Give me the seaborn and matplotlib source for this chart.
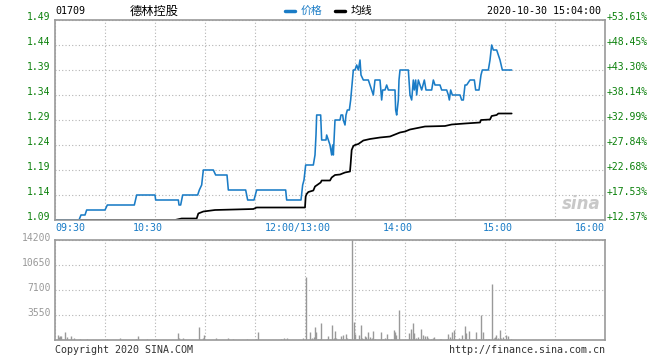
import matplotlib
matplotlib.use("Agg")
import matplotlib.pyplot as plt
import matplotlib.transforms as mtransforms
from matplotlib.lines import Line2D
import seaborn as sns

# minutes after 09:30, lunch break removed (150 = 12:00/13:00, 330 = 16:00)
price_min = [0, 14.4, 15.6, 18, 19, 30, 31.4, 47.6, 49, 60, 60.4, 74, 74.4, 75.4,
             76.6, 85.6, 86.6, 88, 89, 95, 96.4, 103.2, 104, 114.4, 115.6, 119.4,
             121, 138.4, 139, 147.6, 148.6, 149.4, 150.4, 155, 156, 156.6, 157,
             159.4, 160, 162.6, 163, 164, 165, 166, 166.6, 167, 168, 171, 171.6,
             172.6, 173, 174, 174.6, 175.4, 176.6, 177.4, 178.2, 179, 180, 181,
             182, 183, 183.6, 185, 188, 189, 190, 191, 192, 195, 196, 196.6, 198,
             199, 200, 204, 204.4, 205, 206, 206.4, 207, 212, 212.4, 213, 214,
             215, 215.6, 216.4, 217, 218, 219, 220, 221.6, 222.6, 226, 227, 228,
             231, 232, 235, 236, 236.6, 237.4, 238.4, 243, 244, 245, 246, 247,
             249, 251.6, 252.4, 254.4, 255.6, 256.4, 260, 261, 262, 263, 265,
             266, 267, 268.4, 274]
price_val = [1.09, 1.09, 1.10, 1.10, 1.11, 1.11, 1.12, 1.12, 1.14, 1.14, 1.13, 1.13,
             1.12, 1.12, 1.14, 1.14, 1.15, 1.16, 1.19, 1.19, 1.18, 1.18, 1.15, 1.15,
             1.13, 1.13, 1.15, 1.15, 1.13, 1.13, 1.16, 1.17, 1.20, 1.20, 1.22, 1.26,
             1.30, 1.30, 1.25, 1.25, 1.26, 1.25, 1.24, 1.22, 1.24, 1.22, 1.29, 1.29,
             1.30, 1.30, 1.29, 1.28, 1.30, 1.31, 1.31, 1.33, 1.36, 1.39, 1.39, 1.40,
             1.39, 1.41, 1.38, 1.37, 1.37, 1.36, 1.35, 1.34, 1.37, 1.37, 1.33, 1.35,
             1.35, 1.36, 1.35, 1.35, 1.31, 1.30, 1.33, 1.37, 1.39, 1.39, 1.37, 1.34,
             1.33, 1.37, 1.35, 1.37, 1.34, 1.37, 1.36, 1.35, 1.37, 1.35, 1.35, 1.37,
             1.36, 1.36, 1.35, 1.35, 1.34, 1.33, 1.35, 1.34, 1.34, 1.33, 1.33, 1.36,
             1.36, 1.37, 1.37, 1.35, 1.35, 1.38, 1.39, 1.39, 1.41, 1.44, 1.43, 1.43,
             1.42, 1.41, 1.39, 1.39]

avg_min = [0, 72, 76, 85, 86, 89, 96, 119, 121, 150, 150.4, 151, 152, 155, 156,
           159.4, 160, 165, 166, 168, 171, 174, 177, 177.4, 178, 179, 180, 182,
           185, 189, 195, 201, 204, 207, 210, 213, 216, 222, 234, 238, 246, 255,
           255.6, 261, 262, 265, 266, 274]
avg_val = [1.09, 1.09, 1.093, 1.093, 1.103, 1.107, 1.110, 1.112, 1.115, 1.115,
           1.137, 1.142, 1.146, 1.149, 1.157, 1.165, 1.169, 1.169, 1.175, 1.180,
           1.181, 1.185, 1.187, 1.203, 1.230, 1.238, 1.240, 1.242, 1.249, 1.252,
           1.255, 1.257, 1.261, 1.265, 1.267, 1.271, 1.273, 1.277, 1.278, 1.281,
           1.283, 1.285, 1.290, 1.291, 1.298, 1.300, 1.303, 1.303]

vol_min = [1.5, 2.1, 2.7, 3.4, 5.7, 7.4, 9.3, 11.6, 15.2, 19.4, 31.4, 39.2, 48.4,
           49.5, 55.4, 60.4, 73.5, 74.1, 76.6, 86.1, 88.8, 89.5, 96.4, 104.0, 106.9,
           115.4, 120.4, 121.5, 135.8, 137.2, 138.9, 149.0, 150.3, 153.2, 154.3,
           155.3, 156.2, 156.8, 157.9, 158.7, 159.8, 162.9, 164.0, 165.0, 166.1,
           167.1, 168.2, 168.8, 171.3, 172.2, 173.0, 174.3, 175.1, 176.2, 177.2,
           177.9, 179.1, 180.2, 181.2, 182.3, 183.3, 184.0, 185.0, 186.1, 186.7,
           188.0, 189.0, 190.1, 190.9, 192.2, 195.8, 196.8, 197.9, 198.9, 200.0,
           201.7, 203.1, 203.8, 204.8, 206.1, 212.4, 213.7, 214.7, 215.6, 216.6,
           217.7, 218.7, 219.8, 220.8, 221.9, 222.9, 224.0, 225.5, 226.5, 227.6,
           230.7, 231.8, 234.9, 236.0, 237.0, 238.1, 239.1, 240.2, 242.3, 243.3,
           244.4, 245.7, 246.7, 248.6, 252.6, 254.3, 255.5, 256.8, 258.5, 259.5,
           260.6, 261.9, 263.1, 264.0, 264.8, 265.7, 266.7, 267.8, 268.8, 269.6,
           270.5, 271.6, 273.7]
vol_val = [710, 473, 568, 615, 1136, 426, 568, 284, 189, 142, 142, 284, 142, 568,
           142, 189, 994, 284, 284, 1846, 237, 663, 284, 284, 142, 142, 142, 1136,
           142, 284, 284, 284, 8898, 1136, 284, 426, 1846, 1136, 142, 142, 2414,
           142, 568, 142, 2130, 284, 1278, 284, 568, 142, 710, 852, 284, 142, 142,
           14200, 2556, 852, 142, 710, 2130, 284, 142, 568, 426, 1136, 426, 284,
           1278, 142, 1136, 142, 284, 852, 142, 142, 1420, 1136, 710, 4260, 994,
           1562, 2414, 994, 284, 426, 142, 1562, 710, 568, 568, 284, 142, 284, 426,
           142, 142, 142, 852, 426, 1136, 1420, 142, 284, 142, 710, 1988, 994, 1278,
           1136, 142, 3550, 1136, 142, 142, 142, 7952, 284, 426, 710, 284, 1420,
           284, 426, 142, 710, 568, 142]

prev_close = 0.97
price_ticks = [1.09, 1.14, 1.19, 1.24, 1.29, 1.34, 1.39, 1.44, 1.49]
time_labels = {0: "09:30", 60: "10:30", 150: "12:00/13:00", 210: "14:00",
               270: "15:00", 330: "16:00"}
vol_ticks = [0, 3550, 7100, 10650, 14200]

BLUE = "#1a7cc6"
GREEN = "#0a800a"
GREY = "#999999"
GRID = "#b4b4b4"

sns.set_theme(style="white")
plt.rcParams["font.family"] = ["DejaVu Sans Mono", "Noto Sans CJK SC"]

fig = plt.figure(figsize=(6.6, 3.6), dpi=100)
ax = fig.add_axes([55 / 660, 140 / 360, 550 / 660, 200 / 360])
axv = fig.add_axes([55 / 660, 20 / 360, 550 / 660, 100 / 360])

sns.lineplot(x=avg_min, y=avg_val, ax=ax, color="black", lw=1.25, estimator=None)
sns.lineplot(x=price_min, y=price_val, ax=ax, color=BLUE, lw=1.15, estimator=None)
axv.vlines(vol_min, 0, vol_val, colors=GREY, lw=1)

grid_x = list(range(0, 331, 30))
for a in (ax, axv):
    a.set_xlim(0, 330)
    a.set_xticks(grid_x)
    a.grid(True, color=GRID, linestyle=(0, (1, 2)), lw=0.8)
    a.set_xlabel("")
    a.set_ylabel("")
    for s in a.spines.values():
        s.set_color(GREY)
        s.set_linewidth(1.2)
    a.tick_params(length=0)

ax.set_ylim(1.09, 1.49)
ax.set_yticks(price_ticks)
ax.set_yticklabels([f"{p:.2f}" for p in price_ticks], color=GREEN, fontsize=7)
ax.tick_params(axis="y", pad=3)
ax.set_xticklabels([time_labels.get(t, "") for t in grid_x], color=BLUE, fontsize=7.2)
ax.tick_params(axis="x", pad=2)

up = mtransforms.ScaledTranslation(0, 3 / 72, fig.dpi_scale_trans)
left = mtransforms.ScaledTranslation(-5 / 72, 0, fig.dpi_scale_trans)
for lab in ax.get_yticklabels():
    lab.set_transform(lab.get_transform() + up)
xl = ax.get_xticklabels()
for i, lab in enumerate(xl):
    if i == 0:
        lab.set_ha("left")
    elif i == len(xl) - 1:
        lab.set_ha("right")
    else:
        lab.set_transform(lab.get_transform() + left)

ax2 = ax.twinx()
ax2.set_ylim(ax.get_ylim())
ax2.set_yticks(price_ticks)
ax2.set_yticklabels([f"+{(p / prev_close - 1) * 100:.2f}%" for p in price_ticks],
                    color=GREEN, fontsize=7)
ax2.tick_params(length=0, pad=1)
for s in ax2.spines.values():
    s.set_visible(False)
for lab in ax2.get_yticklabels():
    lab.set_transform(lab.get_transform() + up)

axv.set_ylim(0, 14200)
axv.set_yticks(vol_ticks)
axv.set_yticklabels(["" if v == 0 else str(v) for v in vol_ticks], color=GREY, fontsize=7)
axv.set_xticklabels([])
axv.tick_params(axis="y", pad=3)
up2 = mtransforms.ScaledTranslation(0, 2 / 72, fig.dpi_scale_trans)
for lab in axv.get_yticklabels():
    lab.set_transform(lab.get_transform() + up2)

# watermark
ax.text(0.992, 0.035, "sina", transform=ax.transAxes, ha="right", va="bottom",
        color="#c8c8c8", fontsize=12, fontstyle="italic", fontweight="bold",
        family="DejaVu Sans")

# header
hy = 1 - 11 / 360
fig.text(55 / 660, hy, "01709", fontsize=7.2, va="center", color="black")
fig.text(130 / 660, hy, "德林控股", fontsize=8.8, va="center", color="black",
         family=["Noto Sans CJK SC", "DejaVu Sans"])
fig.add_artist(Line2D([285 / 660, 295 / 660], [hy, hy], color=BLUE, lw=2.5))
fig.text(301 / 660, hy, "价格", fontsize=7.8, va="center", color=BLUE,
         family=["Noto Sans CJK SC", "DejaVu Sans"])
fig.add_artist(Line2D([335 / 660, 345 / 660], [hy, hy], color="black", lw=2.5))
fig.text(351 / 660, hy, "均线", fontsize=7.8, va="center", color="black",
         family=["Noto Sans CJK SC", "DejaVu Sans"])
fig.text(601 / 660, hy, "2020-10-30 15:04:00", fontsize=7.2, va="center", ha="right",
         color="black")

# footer
fy = 1 - 350 / 360
fig.text(55 / 660, fy, "Copyright 2020 SINA.COM", fontsize=7.2, va="center",
         color="#333333")
fig.text(605 / 660, fy, "http://finance.sina.com.cn", fontsize=7.2, va="center",
         ha="right", color="#333333")

fig.savefig("out.png", dpi=100)
